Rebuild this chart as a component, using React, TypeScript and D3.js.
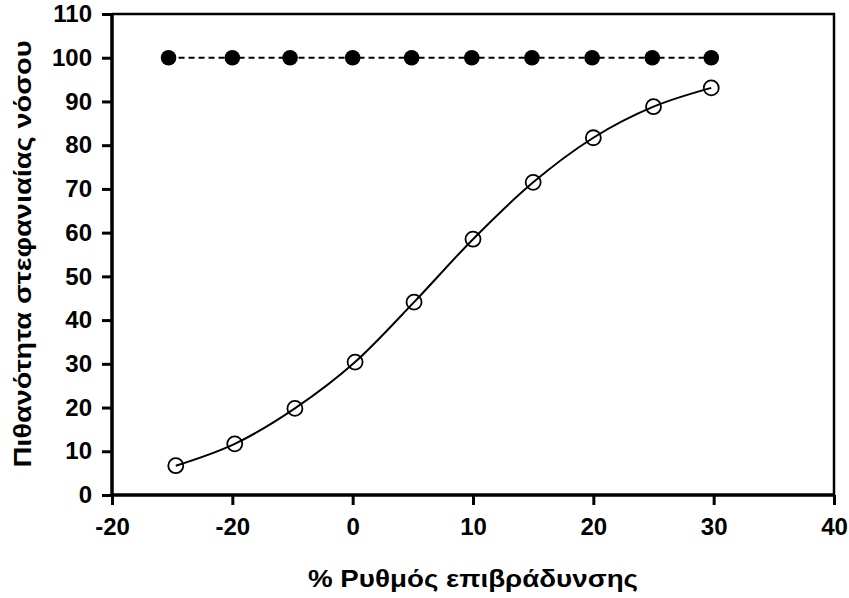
import React, { useEffect, useRef } from 'react';
import * as d3 from 'd3';

// tick values and the labels printed on them (second label reads -20 in the source)
const xTicks = [-20, -10, 0, 10, 20, 30, 40];
const xTickLabels = ['-20', '-20', '0', '10', '20', '30', '40'];
const yTicks = [0, 10, 20, 30, 40, 50, 60, 70, 80, 90, 100, 110];

// filled markers, dashed line
const filledX = [-15.3, -10, -5.2, 0, 4.9, 9.9, 14.9, 19.9, 24.9, 29.8];
const filledY = [100, 100, 100, 100, 100, 100, 100, 100, 100, 100];

// open markers, smooth curve
const openX = [-14.7, -9.8, -4.8, 0.2, 5.1, 10, 15, 20, 25, 29.8];
const openY = [6.7, 11.7, 19.8, 30.4, 44.1, 58.5, 71.5, 81.7, 88.8, 93.1];

const xTitle = '% Ρυθμός επιβράδυνσης';
const yTitle = 'Πιθανότητα στεφανιαίας νόσου';

const App = () => {
  const ref = useRef<SVGSVGElement>(null);

  useEffect(() => {
    const svg = d3.select(ref.current);
    svg.selectAll('*').remove();
    const width = 849;
    const height = 598;
    const margin = { top: 14, right: 15, bottom: 103, left: 112 };
    const font = '"Liberation Sans", Arial, sans-serif';

    const x = d3.scaleLinear().domain([-20, 40]).range([margin.left, width - margin.right]);
    const y = d3.scaleLinear().domain([0, 110]).range([height - margin.bottom, margin.top]);

    // frame top and right
    svg.append('path')
      .attr('d', `M${x(-20)},${y(110)}H${x(40)}V${y(0)}`)
      .attr('fill', 'none')
      .attr('stroke', '#000')
      .attr('stroke-width', 2.5);

    const xAxis = svg.append('g')
      .attr('transform', `translate(0,${y(0)})`)
      .call(d3.axisBottom(x).tickValues(xTicks).tickSize(10).tickPadding(13)
        .tickFormat((d, i) => xTickLabels[i]));
    const yAxis = svg.append('g')
      .attr('transform', `translate(${x(-20)},0)`)
      .call(d3.axisLeft(y).tickValues(yTicks).tickSize(10).tickPadding(10));

    [xAxis, yAxis].forEach(g => {
      g.attr('font-size', 24).attr('font-family', font).attr('font-weight', 'bold');
      g.select('.domain').attr('stroke-width', 3.5).attr('d',
        g === xAxis ? `M${x(-20)},0H${x(40)}` : `M0,${y(0)}V${y(110)}`);
      g.selectAll('.tick line').attr('stroke-width', 3);
      g.selectAll('.tick text').attr('fill', '#000');
    });

    // dashed series
    const filled = filledX.map((v, i) => [v, filledY[i]] as [number, number]);
    svg.append('path')
      .datum(filled)
      .attr('fill', 'none')
      .attr('stroke', '#000')
      .attr('stroke-width', 2)
      .attr('stroke-dasharray', '6,4')
      .attr('d', d3.line().x(d => x(d[0])).y(d => y(d[1])));
    svg.append('g').selectAll('circle')
      .data(filled)
      .join('circle')
      .attr('cx', d => x(d[0]))
      .attr('cy', d => y(d[1]))
      .attr('r', 7.8)
      .attr('fill', '#000');

    // curve series
    const open = openX.map((v, i) => [v, openY[i]] as [number, number]);
    svg.append('path')
      .datum(open)
      .attr('fill', 'none')
      .attr('stroke', '#000')
      .attr('stroke-width', 2)
      .attr('d', d3.line().x(d => x(d[0])).y(d => y(d[1])).curve(d3.curveMonotoneX));
    svg.append('g').selectAll('circle')
      .data(open)
      .join('circle')
      .attr('cx', d => x(d[0]))
      .attr('cy', d => y(d[1]))
      .attr('r', 7.5)
      .attr('fill', 'none')
      .attr('stroke', '#000')
      .attr('stroke-width', 1.8);

    // titles
    svg.append('text')
      .attr('x', 473)
      .attr('y', 587)
      .attr('text-anchor', 'middle')
      .attr('font-family', font)
      .attr('font-weight', 'bold')
      .attr('font-size', 24)
      .attr('textLength', 330)
      .attr('lengthAdjust', 'spacingAndGlyphs')
      .text(xTitle);
    svg.append('text')
      .attr('transform', `translate(31,${254}) rotate(-90)`)
      .attr('text-anchor', 'middle')
      .attr('font-family', font)
      .attr('font-weight', 'bold')
      .attr('font-size', 24)
      .attr('textLength', 427)
      .attr('lengthAdjust', 'spacingAndGlyphs')
      .text(yTitle);
  }, []);

  return (
    <svg
      ref={ref}
      width={849}
      height={598}
      style={{ position: 'absolute', left: 0, top: 0, background: '#fff' }}
    />
  );
};

export default App;
